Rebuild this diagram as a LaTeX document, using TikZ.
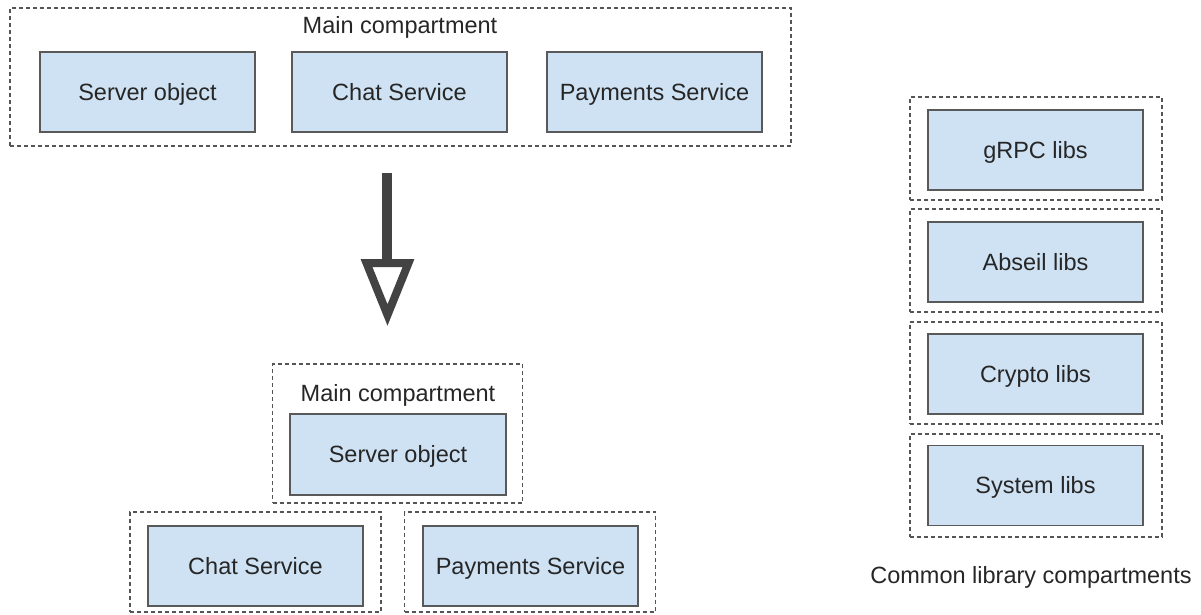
\documentclass[tikz,border=0pt]{standalone}
\usepackage{fontspec}
\setmainfont{Liberation Sans}
\begin{document}
\begin{tikzpicture}[x=1pt,y=1pt,
  comp/.style={draw=boxline, line width=1.8pt, fill=boxfill, minimum width=215pt, minimum height=80pt, inner sep=0pt, font=\fontsize{23.5}{28}\selectfont, text=txt, text height=16.8pt, text depth=0pt},
  dbox/.style={draw=dashline, line width=1.1pt, dash pattern=on 4pt off 3pt, inner sep=0pt},
  lbl/.style={font=\fontsize{23.5}{28}\selectfont, text=txt, inner sep=0pt, text height=16.8pt, text depth=0pt},
  arr/.style={draw=arrcol, line join=miter, miter limit=10}
]
\definecolor{boxfill}{HTML}{CFE2F3}
\definecolor{boxline}{HTML}{595959}
\definecolor{dashline}{HTML}{555555}
\definecolor{txt}{HTML}{262626}
\definecolor{arrcol}{HTML}{434343}
\useasboundingbox (0,0) rectangle (1201,-614);

% top main compartment
\node[dbox, minimum width=781pt, minimum height=138pt] (topc) at (400.5,-77) {};
\node[lbl] (toplbl) at (400,-25.5) {Main compartment};
\node[comp] (s1) at (147.5,-92) {Server object};
\node[comp] (c1) at (399.5,-92) {Chat Service};
\node[comp] (p1) at (654.5,-92) {Payments Service};

% arrow
\coordinate (atop) at (387,-173);
\coordinate (abase) at (387,-263);
\coordinate (al) at (366.5,-263);
\coordinate (ar) at (408.5,-263);
\coordinate (atip) at (387.5,-315);
\draw[arr, line width=10pt] (atop) -- (abase);
\draw[arr, line width=8pt] (al) -- (ar) -- (atip) -- cycle;

% bottom: main compartment
\node[dbox, minimum width=250pt, minimum height=139pt] (midc) at (397.5,-433.5) {};
\node[lbl] (midlbl) at (398,-393.5) {Main compartment};
\node[comp, minimum width=216pt, minimum height=81pt] (s2) at (398,-454.5) {Server object};

% bottom left / right compartments
\node[dbox, minimum width=251pt, minimum height=100pt] (lc) at (255.5,-562) {};
\node[comp] (c2) at (255.5,-566) {Chat Service};
\node[dbox, minimum width=251pt, minimum height=100pt] (rc) at (530,-562) {};
\node[comp] (p2) at (530.5,-566) {Payments Service};

% right column
\node[dbox, minimum width=252pt, minimum height=103pt] (g1) at (1036,-148.5) {};
\node[comp] (g) at (1035.5,-150) {gRPC libs};
\node[dbox, minimum width=252pt, minimum height=103pt] (a1) at (1036,-260.5) {};
\node[comp] (a) at (1035.5,-262) {Abseil libs};
\node[dbox, minimum width=252pt, minimum height=102pt] (cr1) at (1036,-373) {};
\node[comp] (cr) at (1035.5,-374) {Crypto libs};
\node[dbox, minimum width=252pt, minimum height=103pt] (sy1) at (1036,-485.5) {};
\node[comp] (sy) at (1035.5,-485.5) {System libs};
\node[lbl] (clbl) at (1031,-575) {Common library compartments};
\end{tikzpicture}
\end{document}
